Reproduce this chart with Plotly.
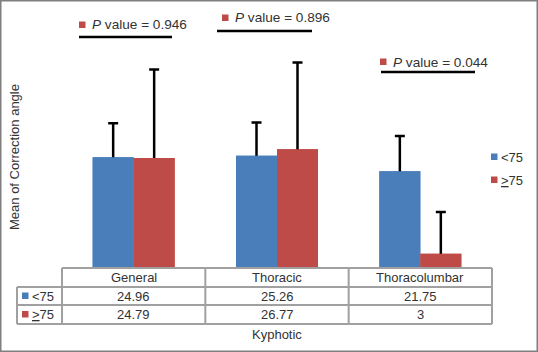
import plotly.graph_objects as go

categories = ["General", "Thoracic", "Thoracolumbar"]
series_names = ["<75", "<u>></u>75"]
means_lt75 = [24.96, 25.26, 21.75]
means_ge75 = [24.79, 26.77, 3]
err_lt75 = [7.7, 7.6, 8.0]
err_ge75 = [20.1, 19.7, 9.5]
p_values = ["0.946", "0.896", "0.044"]
x_title = "Kyphotic"
y_title = "Mean of Correction angle"

colors = ["#4A7EBB", "#BE4B48"]
series_vals = [means_lt75, means_ge75]
series_errs = [err_lt75, err_ge75]

W, H = 538, 352
L, R, T, B = 62, 46, 47, 85
PW, PH = W - L - R, H - T - B
FONT = "Liberation Sans, Arial, sans-serif"
TXT = "#333333"
GRID = "#a0a0a0"


def X(px):
    return (px - L) / PW


def Y(py):
    return (H - B - py) / PH


fig = go.Figure()
# bars carrying the error bars (lower part hidden by the overlay bars)
for i in range(2):
    fig.add_trace(go.Bar(
        x=categories, y=series_vals[i], offsetgroup=str(i),
        marker=dict(color=colors[i], line=dict(width=0)),
        error_y=dict(type="data", symmetric=False, array=series_errs[i],
                     arrayminus=series_vals[i], color="black",
                     thickness=2.5, width=5),
        showlegend=False, hoverinfo="skip"))
for i in range(2):
    fig.add_trace(go.Bar(
        x=categories, y=series_vals[i], offsetgroup=str(i),
        marker=dict(color=colors[i], line=dict(width=0)),
        showlegend=False))

shapes = []


def hline(px0, px1, py, color=GRID, w=2):
    shapes.append(dict(type="line", xref="paper", yref="paper",
                       x0=X(px0), x1=X(px1), y0=Y(py), y1=Y(py),
                       line=dict(color=color, width=w)))


def vline(px, py0, py1, color=GRID, w=2):
    shapes.append(dict(type="line", xref="paper", yref="paper",
                       x0=X(px), x1=X(px), y0=Y(py0), y1=Y(py1),
                       line=dict(color=color, width=w)))


def square(px, py, color, s=6.5):
    shapes.append(dict(type="rect", xref="paper", yref="paper",
                       x0=X(px), x1=X(px + s), y0=Y(py), y1=Y(py + s),
                       fillcolor=color, line=dict(width=0)))


# outer frame
shapes.append(dict(type="rect", xref="paper", yref="paper",
                   x0=X(0.75), x1=X(W - 0.75), y0=Y(0.75), y1=Y(H - 0.75),
                   line=dict(color="#7f7f7f", width=1.5)))

# table grid
rows = [268, 287, 305, 324]
col_lines = [L + PW * k / 3 for k in range(4)]
left_px = 17
hline(L, L + PW, rows[0])
for ry in rows[1:]:
    hline(left_px, L + PW, ry)
vline(left_px, rows[1], rows[3])
for cx in col_lines:
    vline(cx, rows[0], rows[3])

annotations = []


def text(px, py, t, xanchor="center", size=13, xref="paper", xv=None, **kw):
    annotations.append(dict(
        x=xv if xv is not None else X(px), y=Y(py), xref=xref, yref="paper",
        text=t, showarrow=False, xanchor=xanchor, yanchor="middle",
        font=dict(family=FONT, size=size, color=TXT), **kw))


# header row
for c in categories:
    text(0, (rows[0] + rows[1]) / 2, c, xref="x", xv=c)
# value rows
for i in range(2):
    cy = (rows[i + 1] + rows[i + 2]) / 2
    for c, v in zip(categories, series_vals[i]):
        text(0, cy, f"{v:g}", xref="x", xv=c)
    square(22, cy - 3.5, colors[i])
    text(29.5, cy, series_names[i], xanchor="left")

# right-side legend
for i, ly in enumerate([157, 180]):
    square(491, ly - 3.5, colors[i])
    text(498.5, ly, series_names[i], xanchor="left")

# axis titles
text(L + PW / 2, 334, x_title)
text(14, T + PH / 2, y_title, textangle=-90)

# p-value labels
p_specs = [(79, 25, 79, 172, 37), (222, 18, 217, 312, 31), (380, 62, 381, 475, 72)]
for pv, (sx, sy, lx0, lx1, ly) in zip(p_values, p_specs):
    square(sx, sy - 3.5, colors[1])
    text(sx + 11, sy, f"<i>P</i> value = {pv}", xanchor="left", size=13.6)
    hline(lx0, lx1, ly, color="black", w=2.5)

fig.update_layout(
    width=W, height=H, margin=dict(l=L, r=R, t=T, b=B),
    paper_bgcolor="white", plot_bgcolor="white",
    barmode="group", bargap=0.428, bargroupgap=0,
    xaxis=dict(visible=False, range=[-0.5, 2.5], type="category"),
    yaxis=dict(visible=False, range=[0, 50]),
    shapes=shapes, annotations=annotations, showlegend=False,
    font=dict(family=FONT, size=13, color=TXT),
)

fig.write_html(
    "out.html",
    config={"displayModeBar": False},
    post_script="document.body.style.margin='0';document.body.style.padding='0';",
)
